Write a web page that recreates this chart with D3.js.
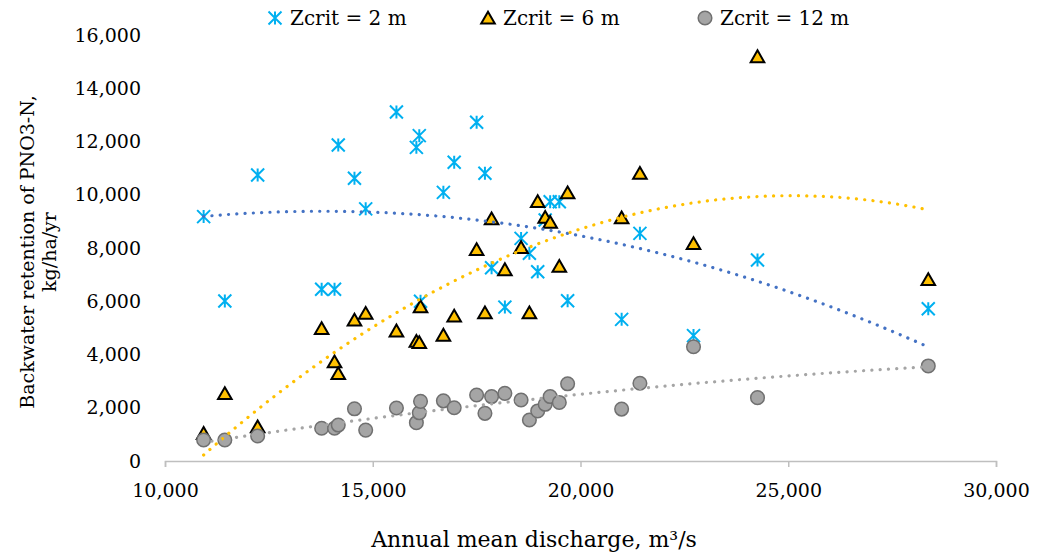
<!DOCTYPE html>
<html>
<head>
<meta charset="utf-8">
<script src="https://cdnjs.cloudflare.com/ajax/libs/d3/7.8.5/d3.min.js"></script>
<style>
  body { margin: 0; background: #fff; }
  svg { display: block; }
  text { font-family: "DejaVu Serif", Georgia, serif; fill: #000; }
</style>
</head>
<body>
<svg id="chart" width="1039" height="557"></svg>
<script>
// annual mean discharge (m3/s), shared by all three series
const discharge = [10930, 11440, 12230, 13770, 14080, 14170, 14560, 14830, 15570, 16050,
  16120, 16150, 16700, 16960, 17500, 17700, 17860, 18180, 18570, 18770,
  18970, 19150, 19270, 19490, 19690, 20990, 21430, 22720, 24260, 28370];

// backwater retention of PNO3-N, kg/ha/yr
const zcrit2 = [9180, 6010, 10740, 6450, 6450, 11870, 10620, 9470, 13110, 11780,
  12220, 6000, 10090, 11220, 12720, 10810, 7260, 5780, 8360, 7800,
  7110, 9050, 9740, 9740, 6020, 5320, 8550, 4710, 7550, 5720];

const zcrit6 = [1040, 2540, 1290, 4980, 3730, 3290, 5300, 5550, 4890, 4500,
  4450, 5800, 4730, 5450, 7950, 5570, 9100, 7190, 8020, 5570,
  9750, 9160, 8970, 7320, 10080, 9140, 10810, 8170, 15190, 6820];

const zcrit12 = [790, 790, 940, 1230, 1230, 1350, 1960, 1160, 1990, 1440,
  1810, 2240, 2260, 2000, 2480, 1790, 2420, 2540, 2290, 1540,
  1880, 2130, 2420, 2200, 2900, 1950, 2920, 4290, 2380, 3570];

const seriesNames = ["Zcrit = 2 m", "Zcrit = 6 m", "Zcrit = 12 m"];
const xTicks = [10000, 15000, 20000, 25000, 30000];
const yTicks = [0, 2000, 4000, 6000, 8000, 10000, 12000, 14000, 16000];

const svg = d3.select("#chart");
const plot = { left: 165, right: 996, top: 35, bottom: 461 };

const x = d3.scaleLinear().domain([10000, 30000]).range([plot.left, plot.right]);
const y = d3.scaleLinear().domain([0, 16000]).range([plot.bottom, plot.top]);
const fmt = d3.format(",");

// second order polynomial trendline (least squares), like the spreadsheet one
function polyFit(xs, ys) {
  const m = [[0, 0, 0, 0], [0, 0, 0, 0], [0, 0, 0, 0]];
  xs.forEach((xv, i) => {
    const u = xv / 1000;
    const p = [1, u, u * u];
    for (let r = 0; r < 3; r++) {
      for (let c = 0; c < 3; c++) m[r][c] += p[r] * p[c];
      m[r][3] += p[r] * ys[i];
    }
  });
  for (let k = 0; k < 3; k++) {
    for (let r = k + 1; r < 3; r++) {
      const f = m[r][k] / m[k][k];
      for (let c = k; c < 4; c++) m[r][c] -= f * m[k][c];
    }
  }
  const b = [0, 0, 0];
  for (let r = 2; r >= 0; r--) {
    let s = m[r][3];
    for (let c = r + 1; c < 3; c++) s -= m[r][c] * b[c];
    b[r] = s / m[r][r];
  }
  return v => b[0] + b[1] * (v / 1000) + b[2] * (v / 1000) * (v / 1000);
}

// x axis
const xAxis = svg.append("g")
  .attr("transform", `translate(0,${plot.bottom})`)
  .call(d3.axisBottom(x).tickValues(xTicks).tickFormat(fmt).tickSize(6).tickPadding(17));
xAxis.select(".domain").attr("stroke", "#bfbfbf").attr("stroke-width", 1.5);
xAxis.selectAll(".tick line").attr("stroke", "#bfbfbf").attr("stroke-width", 1.5);
xAxis.selectAll(".tick text").attr("font-size", 19).attr("font-family", "DejaVu Serif");

// y axis, labels only
const yAxis = svg.append("g")
  .attr("transform", `translate(${plot.left},0)`)
  .call(d3.axisLeft(y).tickValues(yTicks).tickFormat(fmt).tickSize(0).tickPadding(24));
yAxis.select(".domain").remove();
yAxis.selectAll(".tick text").attr("font-size", 19).attr("font-family", "DejaVu Serif");

// axis titles
svg.append("text")
  .attr("x", 534).attr("y", 547)
  .attr("text-anchor", "middle")
  .attr("font-size", 22)
  .text("Annual mean discharge, m\u00b3/s");

const yTitle = svg.append("text")
  .attr("transform", "translate(34,252) rotate(-90)")
  .attr("text-anchor", "middle")
  .attr("font-size", 19);
yTitle.append("tspan").attr("x", 0).attr("dy", 0).text("Backwater retention of PNO3-N,");
yTitle.append("tspan").attr("x", 0).attr("dy", 22).text("kg/ha/yr");

// markers
const starPath = "M0,-6.5L0,6.5M-6.5,-6.5L6.5,6.5M-6.5,6.5L6.5,-6.5";
const triPath = "M0,-6.2L6.8,5.6L-6.8,5.6Z";

const pts = (vals) => discharge.map((d, i) => ({ x: d, y: vals[i] }));

svg.append("g").selectAll("path")
  .data(pts(zcrit2)).enter().append("path")
  .attr("d", starPath)
  .attr("transform", d => `translate(${x(d.x)},${y(d.y)})`)
  .attr("fill", "none").attr("stroke", "#00b0f0").attr("stroke-width", 2);

svg.append("g").selectAll("path")
  .data(pts(zcrit6)).enter().append("path")
  .attr("d", triPath)
  .attr("transform", d => `translate(${x(d.x)},${y(d.y)})`)
  .attr("fill", "#ffc000").attr("stroke", "#000").attr("stroke-width", 2)
  .attr("stroke-linejoin", "miter");

svg.append("g").selectAll("circle")
  .data(pts(zcrit12)).enter().append("circle")
  .attr("cx", d => x(d.x)).attr("cy", d => y(d.y)).attr("r", 6.8)
  .attr("fill", "#a5a5a5").attr("stroke", "#707070").attr("stroke-width", 1.5);

// trendlines
const trendColors = ["#4472c4", "#ffc000", "#a5a5a5"];
[zcrit2, zcrit6, zcrit12].forEach((vals, k) => {
  const f = polyFit(discharge, vals);
  const lo = d3.min(discharge), hi = d3.max(discharge);
  const xs = d3.range(0, 201).map(i => lo + (hi - lo) * i / 200);
  svg.append("path")
    .datum(xs)
    .attr("d", d3.line().x(v => x(v)).y(v => y(f(v))))
    .attr("fill", "none")
    .attr("stroke", trendColors[k])
    .attr("stroke-width", 3.2)
    .attr("stroke-linecap", "round")
    .attr("stroke-dasharray", "0.1 8.2");
});

// legend
const legend = svg.append("g").attr("transform", "translate(0,18)");
const legX = [275, 488, 705];
seriesNames.forEach((name, k) => {
  const g = legend.append("g").attr("transform", `translate(${legX[k]},0)`);
  if (k === 0) {
    g.append("path").attr("d", starPath).attr("fill", "none")
      .attr("stroke", "#00b0f0").attr("stroke-width", 2);
  } else if (k === 1) {
    g.append("path").attr("d", triPath).attr("fill", "#ffc000")
      .attr("stroke", "#000").attr("stroke-width", 2);
  } else {
    g.append("circle").attr("r", 6.8).attr("fill", "#a5a5a5")
      .attr("stroke", "#707070").attr("stroke-width", 1.5);
  }
  g.append("text").attr("x", 15).attr("y", 7).attr("font-size", 20).text(name);
});
</script>
</body>
</html>
